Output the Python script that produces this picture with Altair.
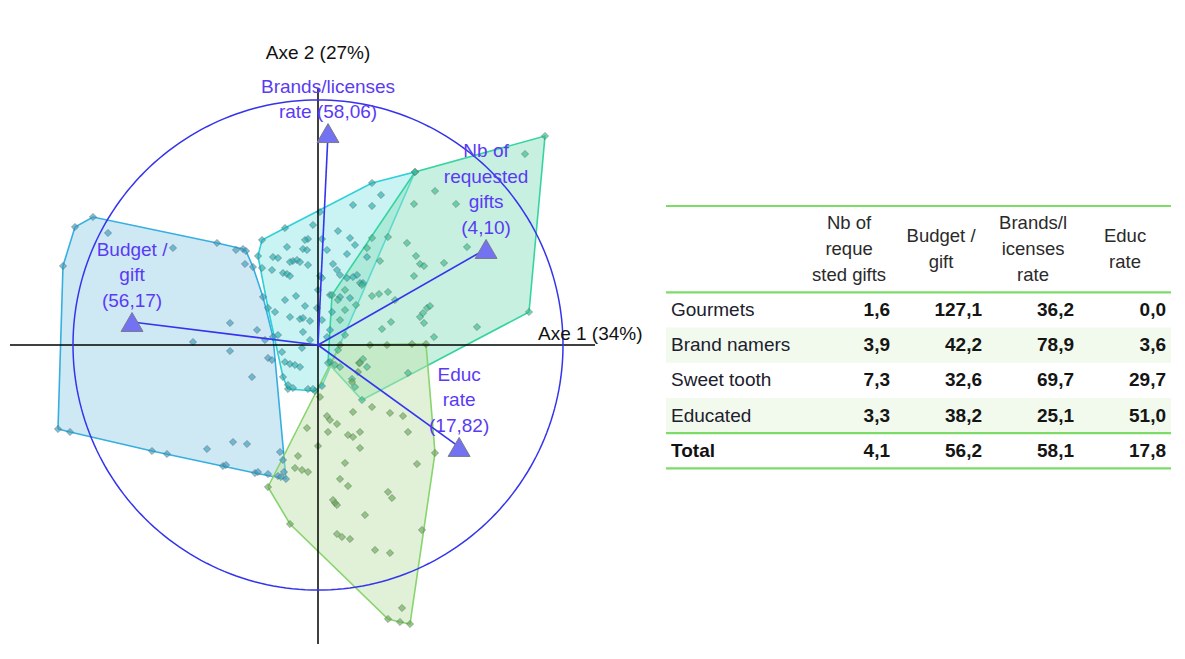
import altair as alt
import pandas as pd
import numpy as np

# ---------------- individuals: factor scores on Axe 1 / Axe 2 ----------------
gourmets_x = [-2.25, -2.43, -2.55, -2.60, -2.48, -1.66, -1.51, -0.95, -0.63, -0.32, -0.45, -0.55, -0.65, -0.75,
              -1.01, -2.10, -1.45, -0.88, -0.61, -1.25, -0.73, -0.88, -0.50, -0.46, -0.66, -1.11, -0.85, -0.71,
              -0.38, -0.60, -0.50, -0.40, -0.92, -0.37, -0.34, -0.35, -0.82, -0.72, -0.53]
gourmets_y = [1.28, 1.18, 0.79, -0.84, -0.87, -1.06, -1.09, -1.21, -1.28, -1.34, 0.08, 0.48, 0.78, 0.96,
              1.02, 1.12, 0.97, 0.22, 0.15, 0.03, 0.81, -0.06, -0.13, -0.15, -0.32, -1.04, -0.97, -0.99,
              -1.07, -1.27, -1.29, -1.31, -1.20, -1.32, -1.27, -1.15, 0.95, 0.94, 0.05]

brand_x = [0.97, 0.54, -0.33, -0.56, -0.60, -0.50, -0.35, -0.30, -0.03, 0.04, 0.12,
           -0.05, 0.02, 0.20, 0.32, -0.10, 0.04, -0.31, -0.15, -0.11, 0.09, 0.29, -0.45, -0.40, -0.25,
           -0.21, -0.18, -0.10, -0.56, -0.46, -0.35, -0.31, -0.28, 0.15, 0.19, 0.22, 0.29, 0.39, 0.45,
           0.12, 0.22, 0.32, -0.13, -0.01, 0.14, -0.28, -0.18, -0.15, -0.08, 0.04, -0.43, -0.15, 0.12,
           -0.40, -0.08, 0.09, -0.16, -0.36, -0.33, -0.28, -0.23, -0.18, -0.30, -0.25, -0.10, -0.05,
           0.63, 0.35, 0.54, 0.37, 0.49, 0.35, 0.42, 0.02, 0.04, 0.00, -0.22, -0.33, -0.13, -0.28]
brand_y = [1.73, 1.62, 1.17, 1.05, 0.89, 0.37, -0.32, -0.44, -0.46, -0.41, -0.17,
           1.20, 1.33, 1.14, 1.07, 1.06, 1.06, 0.98, 0.96, 0.95, 0.95, 0.91, 0.88, 0.87, 0.84,
           0.85, 0.83, 0.80, 0.77, 0.75, 0.72, 0.71, 0.69, 0.81, 0.75, 0.70, 0.67, 0.70, 0.62,
           0.50, 0.48, 0.47, 0.39, 0.37, 0.33, 0.28, 0.26, 0.27, 0.24, 0.25, 0.33, 0.13, 0.15,
           0.10, 0.05, 0.08, -0.03, -0.07, -0.17, -0.19, -0.20, -0.22, -0.40, -0.43, -0.44, -0.44,
           1.50, 1.40, 1.39, 1.00, 0.88, 0.68, 0.62, 0.69, 0.67, 0.55, 0.49, 0.45, 1.05, 0.83]

sweet_x = [2.27, 0.97, 0.14, 0.10, 0.44, 2.11,
           2.07, 1.17, 1.38, 0.96, 0.70, 0.89, 1.49, 0.98, 1.02, 1.06, 1.26, 0.62, 0.54, 0.49, 0.96,
           0.70, 0.61, 0.54, 1.09, 1.12, 1.05, 1.02, 1.06, 0.73, 0.64, 1.59, 1.16, 0.45, 0.41, 0.49,
           0.90, 0.34, 0.37, 0.22, 0.27, 0.20, 0.17, 0.22, 0.27, 0.44, 0.77, 0.38, 0.27, 0.20]
sweet_y = [2.09, 1.73, 0.50, -0.18, -0.55, 0.33,
           1.91, 1.54, 1.41, 1.41, 1.08, 1.02, 0.98, 0.89, 0.81, 0.79, 0.82, 0.84, 1.07, 0.97, 0.69,
           0.53, 0.51, 0.49, 0.37, 0.39, 0.32, 0.28, 0.22, 0.23, 0.16, 0.18, 0.08, -0.14, -0.18, -0.22,
           -0.28, -0.34, -0.42, 0.25, 0.10, -0.05, -0.20, -0.22, 0.35, 0.60, 0.45, 0.40, 0.55, 0.45]

educ_x = [0.22, 1.08, 1.17, 1.04, 0.92, 0.82, 0.70, -0.28, -0.50,
          0.02, -0.11, -0.20, -0.23, -0.16, -0.10, 0.00, 0.09, 0.12, 0.10, 0.19, 0.30, 0.35, 0.42,
          0.42, 0.35, 0.54, 0.72, 0.85, 0.90, 0.99, 0.27, 0.22, 0.30, 0.17, 0.19, 0.70, 0.74, 0.47,
          0.19, 0.24, 0.32, 0.57, 0.72, 0.84, 0.69, 0.94, 0.52, 0.42, 0.34, 0.40, 0.15]
educ_y = [0.00, 0.01, -1.08, -1.85, -2.79, -2.77, -2.74, -1.79, -1.42,
          -0.52, -0.83, -1.11, -1.23, -1.25, -1.27, -1.01, -0.71, -0.75, -0.87, -0.79, -0.90, -0.92, -0.87,
          -1.03, -0.67, -0.62, -0.68, -0.71, -0.87, -1.19, -1.18, -1.34, -1.41, -1.58, -1.60, -1.47, -1.53, -1.70,
          -1.89, -1.92, -1.94, -2.05, -2.08, -2.63, 0.00, 0.01, 0.00, -0.18, -0.37, -0.27, -1.55]

clusters = ["Gourmets", "Brand namers", "Sweet tooth", "Educated"]
cluster_x = [gourmets_x, brand_x, sweet_x, educ_x]
cluster_y = [gourmets_y, brand_y, sweet_y, educ_y]

# ---------------- variables: correlations with Axe 1 / Axe 2 ----------------
var_labels = [["Nb of", "requested", "gifts", "(4,10)"], ["Budget /", "gift", "(56,17)"],
              ["Brands/licenses", "rate (58,06)"], ["Educ", "rate", "(17,82)"]]
var_c1 = [0.686, -0.759, 0.041, 0.576]
var_c2 = [0.392, 0.094, 0.865, -0.416]
biplot_coef = 2.45  # variables rescaled onto the individuals' map

axis1_label = "Axe 1 (34%)"
axis2_label = "Axe 2 (27%)"

# ---------------- table ----------------
tbl_columns = [["Nb of", "reque", "sted gifts"], ["Budget /", "gift"], ["Brands/l", "icenses", "rate"],
               ["Educ", "rate"]]
tbl_rows = ["Gourmets", "Brand namers", "Sweet tooth", "Educated", "Total"]
tbl_values = [
    ["1,6", "127,1", "36,2", "0,0"],
    ["3,9", "42,2", "78,9", "3,6"],
    ["7,3", "32,6", "69,7", "29,7"],
    ["3,3", "38,2", "25,1", "51,0"],
    ["4,1", "56,2", "58,1", "17,8"],
]

# ---------------- styles ----------------
FONT = "Liberation Sans"
POLY_FILL = ["#9fd3ea", "#95e8e8", "#8fe2c2", "#c2e3af"]
POLY_STROKE = ["#36afe0", "#2fd0d8", "#36d4a0", "#88d46e"]
POINT_FILL = ["#3b9dc2", "#27adb0", "#38bd8f", "#68ac56"]
VAR_BLUE = "#3434ee"
LABEL_BLUE = "#5a3bf4"
TABLE_GREEN = "#7ddb68"

W1, H = 650, 636
xs = alt.Scale(domain=[-3.10, 3.40], nice=False, zero=False)
ys = alt.Scale(domain=[-2.99, 3.37], nice=False, zero=False)
LABEL_LINE = 0.255  # line spacing of variable labels, in map units


def convex_hull(px, py):
    pts = sorted(set(zip(px, py)))

    def cross(o, a, b):
        return (a[0] - o[0]) * (b[1] - o[1]) - (a[1] - o[1]) * (b[0] - o[0])

    lower, upper = [], []
    for p in pts:
        while len(lower) >= 2 and cross(lower[-2], lower[-1], p) <= 0:
            lower.pop()
        lower.append(p)
    for p in reversed(pts):
        while len(upper) >= 2 and cross(upper[-2], upper[-1], p) <= 0:
            upper.pop()
        upper.append(p)
    h = lower[:-1] + upper[:-1]
    return h + [h[0]]


layers = []
for i, name in enumerate(clusters):
    h = convex_hull(cluster_x[i], cluster_y[i])
    dfh = pd.DataFrame({"x": [p[0] for p in h], "y": [p[1] for p in h], "o": list(range(len(h)))})
    layers.append(
        alt.Chart(dfh).mark_line(fill=POLY_FILL[i], fillOpacity=0.5, stroke=POLY_STROKE[i],
                                 strokeWidth=1.6, interpolate="linear").encode(
            x=alt.X("x:Q", scale=xs, axis=None), y=alt.Y("y:Q", scale=ys, axis=None), order="o:Q")
    )

pts = pd.concat([pd.DataFrame({"x": cluster_x[i], "y": cluster_y[i], "cluster": name})
                 for i, name in enumerate(clusters)])
layers.append(
    alt.Chart(pts).mark_point(shape="diamond", filled=True, size=52, fillOpacity=0.65,
                              stroke="#4a4a4a", strokeOpacity=0.5, strokeWidth=0.8).encode(
        x=alt.X("x:Q", scale=xs, axis=None), y=alt.Y("y:Q", scale=ys, axis=None),
        fill=alt.Fill("cluster:N", scale=alt.Scale(domain=clusters, range=POINT_FILL), legend=None))
)

axes_df = pd.DataFrame({"x": [-3.08, 0.0], "x2": [2.77, 0.0], "y": [0.0, 2.57], "y2": [0.0, -2.99]})
layers.append(
    alt.Chart(axes_df).mark_rule(color="#000000", strokeWidth=1.5).encode(
        x=alt.X("x:Q", scale=xs, axis=None), x2="x2:Q",
        y=alt.Y("y:Q", scale=ys, axis=None), y2="y2:Q")
)

t = np.linspace(0, 2 * np.pi, 241)
circ = pd.DataFrame({"x": biplot_coef * np.cos(t), "y": biplot_coef * np.sin(t), "o": range(len(t))})
layers.append(
    alt.Chart(circ).mark_line(color=VAR_BLUE, strokeWidth=1.5).encode(
        x=alt.X("x:Q", scale=xs, axis=None), y=alt.Y("y:Q", scale=ys, axis=None), order="o:Q")
)

vdf = pd.DataFrame({"x": [v * biplot_coef for v in var_c1],
                    "y": [v * biplot_coef for v in var_c2],
                    "x0": 0.0, "y0": 0.0})
layers.append(
    alt.Chart(vdf).mark_rule(color=VAR_BLUE, strokeWidth=1.6).encode(
        x=alt.X("x0:Q", scale=xs, axis=None), x2="x:Q",
        y=alt.Y("y0:Q", scale=ys, axis=None), y2="y:Q")
)
layers.append(
    alt.Chart(vdf).mark_point(shape="triangle-up", filled=True, size=480, color="#7272f2",
                              stroke="#7a7a8a", strokeWidth=1, opacity=1).encode(
        x=alt.X("x:Q", scale=xs, axis=None), y=alt.Y("y:Q", scale=ys, axis=None))
)
# one text row per label line, stacked upward from the vector tip
lab_rows = []
for i, lines in enumerate(var_labels):
    n = len(lines)
    for j, s in enumerate(lines):
        lab_rows.append({"t": s, "x": vdf["x"][i], "y": vdf["y"][i] + (n - 1 - j) * LABEL_LINE})
layers.append(
    alt.Chart(pd.DataFrame(lab_rows)).mark_text(baseline="bottom", align="center", dy=-11,
                                                fontSize=19, font=FONT, color=LABEL_BLUE).encode(
        x=alt.X("x:Q", scale=xs, axis=None), y=alt.Y("y:Q", scale=ys, axis=None), text="t:N")
)

ax_df = pd.DataFrame({"t": [axis1_label], "x": [2.20], "y": [0.0]})
layers.append(
    alt.Chart(ax_df).mark_text(align="left", baseline="bottom", dy=-1, fontSize=19, font=FONT,
                               color="#111111").encode(
        x=alt.X("x:Q", scale=xs, axis=None), y=alt.Y("y:Q", scale=ys, axis=None), text="t:N")
)
ax2_df = pd.DataFrame({"t": [axis2_label], "x": [0.0], "y": [2.92]})
layers.append(
    alt.Chart(ax2_df).mark_text(align="center", baseline="middle", fontSize=19, font=FONT,
                                color="#111111").encode(
        x=alt.X("x:Q", scale=xs, axis=None), y=alt.Y("y:Q", scale=ys, axis=None), text="t:N")
)

biplot = alt.layer(*layers).properties(width=W1, height=H)

# ---------------- table panel ----------------
W2 = 505
COL_STEP = 92.0
TX0 = 1 - 224 / COL_STEP
TX1 = TX0 + W2 / COL_STEP
ROW_STEP = 35.2
TY0 = -302 / ROW_STEP
TY1 = TY0 + H / ROW_STEP
txs = alt.Scale(domain=[TX0, TX1], nice=False, zero=False)
tys = alt.Scale(domain=[TY0, TY1], nice=False, zero=False, reverse=True)
LABEL_X = TX0 + 5 / COL_STEP
HEADER_SHIFT = 0.445
HEADER_Y = -1.73
HEADER_LINE = 26 / ROW_STEP
RULE_Y = [-2.955, -0.5, 3.5, 4.5]
BANDED_ROWS = [1, 3]

band_df = pd.DataFrame({"y": [r - 0.5 for r in BANDED_ROWS], "y2": [r + 0.5 for r in BANDED_ROWS],
                        "x": TX0, "x2": TX1})
rule_df = pd.DataFrame({"y": RULE_Y, "x": TX0, "x2": TX1})
head_rows = []
for k, lines in enumerate(tbl_columns):
    n = len(lines)
    for j, s in enumerate(lines):
        head_rows.append({"t": s, "x": k + 1 - HEADER_SHIFT, "y": HEADER_Y + (j - (n - 1) / 2) * HEADER_LINE})
head_df = pd.DataFrame(head_rows)
lab_df = pd.DataFrame({"t": tbl_rows[:-1], "x": LABEL_X, "y": list(range(len(tbl_rows) - 1))})
tot_df = pd.DataFrame({"t": [tbl_rows[-1]], "x": [LABEL_X], "y": [len(tbl_rows) - 1]})
num_df = pd.DataFrame([{"t": tbl_values[r][c], "x": c + 1, "y": r}
                       for r in range(len(tbl_rows)) for c in range(4)])

tlayers = [
    alt.Chart(band_df).mark_rect(color="#f2faee").encode(
        x=alt.X("x:Q", scale=txs, axis=None), x2="x2:Q",
        y=alt.Y("y:Q", scale=tys, axis=None), y2="y2:Q"),
    alt.Chart(rule_df).mark_rule(color=TABLE_GREEN, strokeWidth=2.2).encode(
        x=alt.X("x:Q", scale=txs, axis=None), x2="x2:Q", y=alt.Y("y:Q", scale=tys, axis=None)),
    alt.Chart(head_df).mark_text(align="center", baseline="middle", fontSize=18.5,
                                 font=FONT, color="#2a2a2a").encode(
        x=alt.X("x:Q", scale=txs, axis=None), y=alt.Y("y:Q", scale=tys, axis=None), text="t:N"),
    alt.Chart(lab_df).mark_text(align="left", baseline="middle", fontSize=19, font=FONT,
                                color="#20202e").encode(
        x=alt.X("x:Q", scale=txs, axis=None), y=alt.Y("y:Q", scale=tys, axis=None), text="t:N"),
    alt.Chart(tot_df).mark_text(align="left", baseline="middle", fontSize=19, font=FONT,
                                fontWeight="bold", color="#111111").encode(
        x=alt.X("x:Q", scale=txs, axis=None), y=alt.Y("y:Q", scale=tys, axis=None), text="t:N"),
    alt.Chart(num_df).mark_text(align="right", baseline="middle", fontSize=19, font=FONT,
                                fontWeight="bold", color="#151515").encode(
        x=alt.X("x:Q", scale=txs, axis=None), y=alt.Y("y:Q", scale=tys, axis=None), text="t:N"),
]
table = alt.layer(*tlayers).properties(width=W2, height=H)

chart = alt.hconcat(biplot, table, spacing=6).properties(padding=0).configure_view(stroke=None)
chart.save("out.html", embed_options={"renderer": "svg", "actions": False})
